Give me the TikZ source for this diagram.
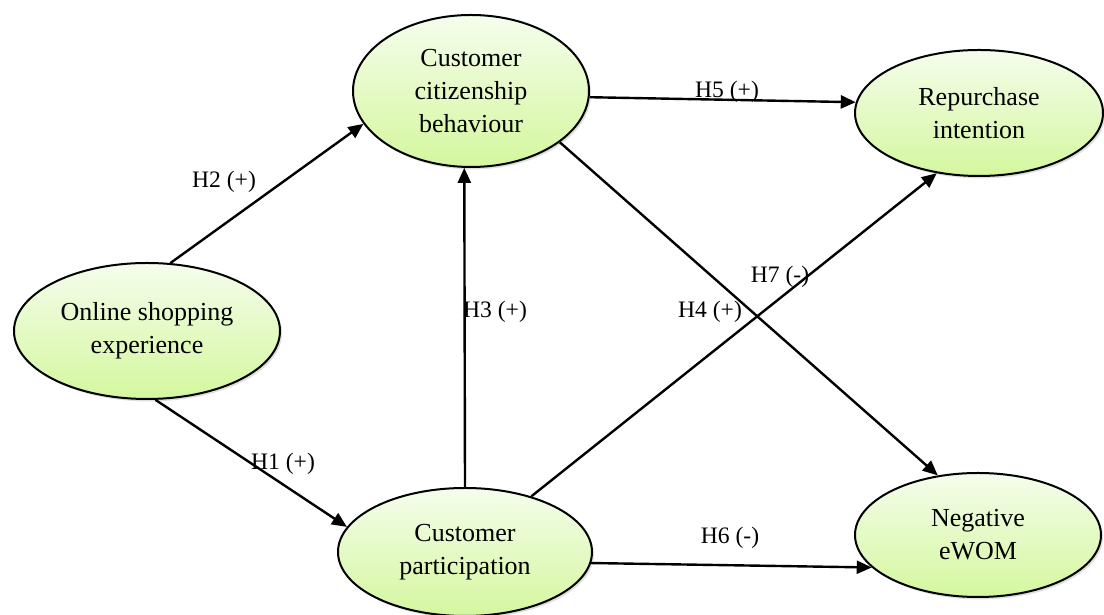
\documentclass[tikz,border=0pt]{standalone}
\usepackage{fontspec}
\setmainfont{Liberation Serif}
\usetikzlibrary{shapes.geometric,arrows.meta,shadows}
\definecolor{lighttop}{RGB}{245,253,236}
\definecolor{lightbottom}{RGB}{212,247,158}
\begin{document}
\begin{tikzpicture}[
  x=0.5pt, y=0.5pt,
  construct/.style={ellipse, draw, line width=1pt, inner sep=0pt, align=center,
    top color=lighttop, bottom color=lightbottom,
    drop shadow={opacity=0.25, shadow xshift=1pt, shadow yshift=-1.2pt},
    font=\fontsize{13}{16.5}\selectfont},
  hyp/.style={draw, line width=1.2pt, -{Triangle[length=7.5pt,width=6.5pt]}},
  hlabel/.style={font=\fontsize{11.8}{14}\selectfont, inner sep=0pt}
]
\useasboundingbox (0,0) rectangle (1104,615);
% constructs
\node[construct, minimum width=133pt, minimum height=68pt] (ose) at (147,284)
  {Online shopping\\experience};
\node[construct, minimum width=118pt, minimum height=76pt] (ccb) at (471,524)
  {Customer\\citizenship\\behaviour};
\node[construct, minimum width=127pt, minimum height=64pt] (cp) at (465,63)
  {Customer\\participation};
\node[construct, minimum width=124pt, minimum height=63pt] (ri) at (979,502)
  {Repurchase\\intention};
\node[construct, minimum width=123pt, minimum height=62pt] (ne) at (978,80)
  {Negative\\eWOM};
% hypotheses
\draw[hyp] (ose.71) -- (ccb.197);
\draw[hyp] (ose.277) -- (cp.168);
\draw[hyp] (cp.north) -- (ccb.265);
\draw[hyp] (cp.40) -- (ri.235);
\draw[hyp] (ccb.357) -- (ri.175);
\draw[hyp] (ccb.330) -- (ne.124);
\draw[hyp] (cp.355) -- (ne.197);
% labels
\node[hlabel] (h2) at (224,433) {H2 (+)};
\node[hlabel] (h1) at (283,151) {H1 (+)};
\node[hlabel] (h3) at (495,303) {H3 (+)};
\node[hlabel] (h4) at (710,303) {H4 (+)};
\node[hlabel] (h5) at (727,523) {H5 (+)};
\node[hlabel] (h7) at (780,338) {H7 (-)};
\node[hlabel] (h6) at (730,77) {H6 (-)};
\end{tikzpicture}
\end{document}
